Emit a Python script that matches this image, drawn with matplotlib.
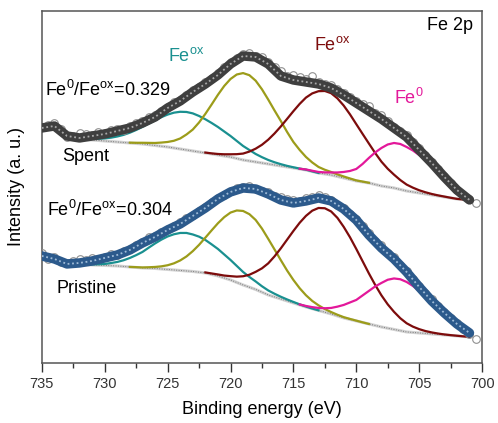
import numpy as np
import matplotlib.pyplot as plt
from matplotlib.ticker import MultipleLocator

# Global plot parameters
plt.rcParams['font.family'] = ['Liberation Sans', 'DejaVu Sans']
plt.rcParams['mathtext.fontset'] = 'custom'
plt.rcParams['mathtext.rm'] = 'Liberation Sans'
plt.rcParams['axes.linewidth'] = 1.1


def grid(start, stop, step=0.5):
    # binding energy points from start down to stop (eV)
    return np.arange(start, stop - step / 2, -step)


# energy grids
E_raw = grid(735, 700.5)        # measured points
E_env = grid(735, 701, 1.0)     # fitted envelope
E_bg = grid(733, 701, 1.0)      # Shirley background
E_feox1 = grid(733, 713)
E_feox2 = grid(728, 709)
E_feox3 = grid(722, 701)
E_fe0 = grid(714.5, 701)

# ---------------- Spent ----------------
raw_spent = [236, 238, 240, 234, 226, 227, 230, 229, 228, 231, 230, 233, 234, 233, 237, 240, 242, 246,
             248, 252, 256, 261, 263, 268, 273, 276, 281, 285, 290, 296, 301, 305, 309, 310, 307, 306,
             301, 296, 292, 287, 288, 286, 284, 287, 281, 279, 278, 274, 270, 266, 262, 259, 257, 250,
             248, 242, 236, 232, 228, 221, 215, 208, 201, 194, 187, 180, 173, 168, 164, 160]
env_spent = [235, 237, 227, 225, 227, 229, 232, 235, 240, 246, 255, 262, 271, 279, 288, 299, 307, 306,
             299, 287, 283, 281, 279, 275, 268, 260, 252, 244, 235, 226, 213, 200, 186, 173, 163]
bg_spent = [224, 223.5, 223, 222, 221, 220, 219, 217.5, 216, 214, 212, 210, 208, 206, 203, 201, 199,
            197, 195, 193, 190, 188, 185, 182, 180, 177, 175, 172, 170, 168, 166, 164, 163]
feox1_spent = [224.1, 224.0, 223.9, 224.0, 224.1, 224.2, 224.6, 225.3, 226.5, 228.1, 230.3, 233.0,
               236.1, 239.3, 242.5, 245.8, 248.4, 250.3, 251.2, 251.0, 249.6, 247.0, 243.7, 240.0,
               236.0, 231.5, 227.0, 222.0, 217.0, 213.0, 209.0, 205.8, 203.0, 200.7, 198.8, 197.1,
               195.7, 194.4, 193.3, 191.6, 190.0]
feox2_spent = [220.3, 220.2, 220.2, 220.1, 220.0, 220.4, 221.0, 222.2, 224.5, 228.5, 233.4, 240.5,
               249.1, 258.5, 268.2, 277.0, 284.0, 288.5, 289.9, 287.8, 282.3, 273.7, 263.4, 252.5,
               242.0, 231.0, 221.0, 213.0, 206.0, 200.5, 196.0, 193.2, 191.0, 188.6, 186.5, 184.5,
               182.6, 181.4, 180.2]
feox3_spent = [210.4, 209.6, 209.0, 208.7, 208.7, 208.8, 209.4, 211.4, 214.3, 218.2, 223.3, 229.5,
               236.5, 244.1, 251.8, 259.1, 265.4, 269.6, 271.8, 272.0, 269.8, 264.6, 257.4, 248.6,
               238.8, 229.1, 219.5, 210.0, 201.3, 194.2, 188.3, 182.9, 178.4, 175.3, 172.7, 170.7,
               169.0, 167.6, 166.4, 165.2, 164.1, 163.5, 163.0]
fe0_spent = [194.2, 193.5, 192.2, 191.0, 190.6, 190.5, 190.5, 191.0, 192.0, 194.0, 199.0, 205.0,
             210.5, 215.0, 218.5, 220.0, 219.0, 216.0, 212.5, 208.0, 203.5, 198.0, 192.5, 186.0,
             180.0, 174.0, 169.5, 166.0]

# ---------------- Pristine ----------------
raw_pristine = [110, 104, 106, 101, 100, 102, 104, 103, 105, 104, 106, 109, 108, 112, 114, 118, 121,
                126, 127, 131, 134, 137, 141, 145, 148, 152, 156, 161, 165, 168, 172, 175, 176, 177,
                174, 172, 171, 167, 166, 164, 163, 162, 165, 166, 168, 166, 163, 158, 155, 149, 144,
                137, 130, 122, 118, 110, 106, 98, 92, 84, 77, 70, 64, 57, 51, 45, 40, 34, 29, 24]
env_pristine = [107, 104, 99, 100, 102, 105, 108, 113, 120, 126, 133, 139, 147, 155, 164, 171, 175,
                174, 169, 163, 160, 162, 165, 162, 154, 143, 128, 115, 104, 91, 76, 62, 50, 39, 30]
bg_pristine = [99, 98.5, 98, 97.5, 97, 96, 95, 94.5, 93.5, 92.5, 91.5, 90, 87, 83, 78, 73.5, 68, 64,
               60, 56, 52.5, 49, 45, 42, 39, 36, 33.5, 31, 30, 29, 28, 27, 26]
feox1_pristine = [99.0, 98.9, 98.7, 98.6, 98.5, 98.7, 99.0, 99.9, 101.0, 102.7, 105.0, 107.8, 111.0,
                  115.3, 119.5, 123.3, 126.5, 128.7, 130.0, 130.0, 128.5, 126.3, 123.0, 118.6, 114.0,
                  108.5, 103.0, 97.0, 91.0, 86.0, 81.5, 76.7, 72.5, 69.2, 66.2, 63.5, 61.0, 58.6,
                  56.4, 54.4, 52.6]
feox2_pristine = [96.0, 95.8, 95.5, 95.7, 96.0, 96.6, 97.7, 99.6, 102.5, 106.5, 111.8, 118.1, 125.3,
                  132.6, 139.7, 145.8, 150.4, 152.5, 152.0, 148.8, 143.0, 134.4, 124.1, 113.5, 102.8,
                  92.4, 83.0, 74.7, 67.7, 62.0, 57.6, 53.9, 50.9, 48.2, 45.8, 44.0, 42.3, 40.6, 39.0]
feox3_pristine = [90.5, 89.5, 88.5, 87.4, 86.8, 86.3, 86.7, 88.2, 91.1, 94.6, 99.6, 106.6, 114.6,
                  123.3, 132.0, 140.2, 147.1, 152.3, 155.0, 154.7, 151.5, 145.1, 136.1, 125.7, 114.0,
                  101.8, 89.6, 78.1, 67.6, 58.6, 51.1, 44.7, 39.7, 36.3, 33.8, 31.9, 30.5, 29.4, 28.5,
                  27.8, 27.2, 26.6, 26.0]
fe0_pristine = [58.5, 57.0, 55.8, 55.0, 54.7, 55.0, 56.3, 58.0, 60.5, 63.0, 67.5, 72.0, 76.5, 80.0,
                83.2, 84.5, 83.7, 81.0, 77.0, 72.0, 67.0, 62.0, 56.5, 50.5, 45.5, 40.0, 35.0, 30.0]

peak_colors = ['#1a9090', '#9c9c1a', '#7d0c0c', '#e3189a']
peak_grids = [E_feox1, E_feox2, E_feox3, E_fe0]

fig, ax = plt.subplots(figsize=(4.98, 4.23), dpi=100)
fig.subplots_adjust(left=0.084, right=0.968, top=0.974, bottom=0.142)


def draw_spectrum(raw, env, bg, peaks, band_col, dot_col):
    ax.plot(E_bg, bg, color='#d2d2d2', lw=2.2, zorder=2)
    ax.plot(E_bg, bg, color='#7a7a7a', lw=0.7, ls=(0, (1, 1.5)), zorder=2)
    for E, p, c in zip(peak_grids, peaks, peak_colors):
        ax.plot(E, p, color=c, lw=1.6, zorder=3)
    ax.plot(E_raw, raw, 'o', ms=5.5, mfc='none', mec='#8f8f8f', mew=0.8, zorder=4)
    ax.plot(E_env, env, color=band_col, lw=6.8, solid_capstyle='round', solid_joinstyle='round', zorder=5)
    ax.plot(E_env, env, color=dot_col, lw=1.3, ls=(0, (1, 1.5)), zorder=6)


draw_spectrum(raw_spent, env_spent, bg_spent,
              [feox1_spent, feox2_spent, feox3_spent, fe0_spent], '#3f3f3f', '#a8a8a8')
draw_spectrum(raw_pristine, env_pristine, bg_pristine,
              [feox1_pristine, feox2_pristine, feox3_pristine, fe0_pristine], '#2c5a8c', '#a0bcd8')

fs = 13
ax.text(700.7, 337, 'Fe 2p', fontsize=fs, ha='right', va='center')
ax.text(723.5, 307, r'Fe$^{\mathregular{ox}}$', fontsize=fs, color=peak_colors[0], ha='center', va='center')
ax.text(711.9, 318, r'Fe$^{\mathregular{ox}}$', fontsize=fs, color=peak_colors[2], ha='center', va='center')
ax.text(705.8, 265, r'Fe$^{\mathregular{0}}$', fontsize=fs, color=peak_colors[3], ha='center', va='center')
ax.text(734.75, 273, r'Fe$^{\mathregular{0}}$/Fe$^{\mathregular{ox}}$=0.329', fontsize=fs, va='center')
ax.text(733.4, 206, 'Spent', fontsize=fs, va='center')
ax.text(734.6, 153, r'Fe$^{\mathregular{0}}$/Fe$^{\mathregular{ox}}$=0.304', fontsize=fs, va='center')
ax.text(733.8, 74, 'Pristine', fontsize=fs, va='center')

ax.set_xlim(735, 700)
ax.set_ylim(0, 352)
ax.set_xticks(np.arange(735, 699, -5))
ax.xaxis.set_minor_locator(MultipleLocator(2.5))
ax.set_yticks([])
ax.tick_params(axis='x', which='major', direction='out', length=6.5, width=1, labelsize=10.5, colors='#333333')
ax.tick_params(axis='x', which='minor', direction='out', length=3.5, width=1, colors='#333333')
for s in ax.spines.values():
    s.set_color('#555555')
ax.set_xlabel('Binding energy (eV)', fontsize=fs, labelpad=7)
ax.set_ylabel('Intensity (a. u.)', fontsize=fs, labelpad=12)

plt.savefig('out.png', dpi=100)
